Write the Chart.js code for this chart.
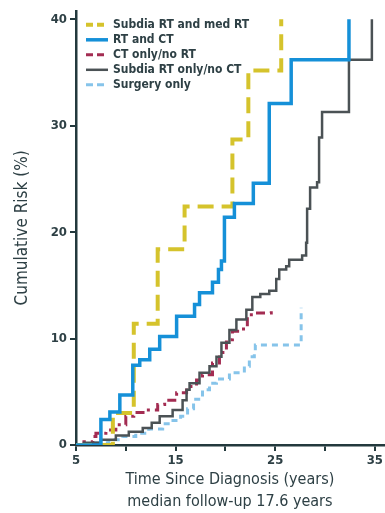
<!DOCTYPE html>
<html>
<head>
<meta charset="utf-8">
<script src="https://cdn.jsdelivr.net/npm/chart.js@4.4.0/dist/chart.umd.min.js"></script>
<style>
  html, body { margin: 0; padding: 0; background: #fff; }
  #wrap { width: 385px; height: 513px; }
</style>
</head>
<body>
<div id="wrap"><canvas id="risk-chart" width="385" height="513"></canvas></div>
<script>
// Eixos
const xTicks = [5, 10, 15, 20, 25, 30, 35];
const xLabeled = [5, 15, 25, 35];
const yTicks = [0, 10, 20, 30, 40];

// Nomes das séries (legenda)
const seriesNames = ['Subdia RT and med RT', 'RT and CT', 'CT only/no RT', 'Subdia RT only/no CT', 'Surgery only'];

// Subdia RT and med RT (amarelo tracejado)
const subdiaMedX = [5, 8.7, 10.8, 13.2, 15.9, 20.7, 22.3, 25.6];
const subdiaMedY = [0, 3.0, 11.4, 18.4, 22.4, 28.7, 35.2, 40];

// RT and CT (azul)
const rtCtX = [5, 7.5, 8.4, 9.4, 10.7, 11.4, 12.4, 13.4, 15.1, 16.9, 17.4, 18.7, 19.3, 19.6, 19.9, 20.9, 22.8, 24.4, 26.6, 32.4];
const rtCtY = [0, 2.4, 3.1, 4.7, 7.5, 8.0, 9.0, 10.2, 12.1, 13.2, 14.3, 15.3, 16.5, 17.3, 21.4, 22.7, 24.6, 32.1, 36.2, 40];

// CT only/no RT (vinho traço-ponto)
const ctOnlyX = [5.4, 5.8, 6.7, 7.0, 8.0, 9.0, 10.0, 10.8, 12.0, 13.2, 13.9, 15.1, 16.1, 17.1, 17.7, 18.7, 19.4, 20.1, 20.7, 21.6, 22.2, 22.6, 24.6];
const ctOnlyY = [0, 0.3, 0.8, 1.1, 1.4, 1.9, 2.7, 3.05, 3.3, 3.8, 4.2, 4.9, 5.5, 6.1, 6.6, 7.7, 8.7, 9.9, 10.7, 10.9, 12.0, 12.4, 12.7];

// Subdia RT only/no CT (cinza)
const subdiaOnlyX = [5, 5.8, 7.5, 9.0, 10.3, 11.7, 12.6, 13.4, 14.7, 15.7, 16.1, 16.4, 17.4, 18.4, 19.1, 19.6, 20.4, 21.1, 22.1, 22.7, 23.5, 24.4, 25.1, 25.4, 26.1, 26.4, 27.7, 28.1, 28.2, 28.2, 28.5, 29.2, 29.4, 29.7, 32.4, 34.7];
const subdiaOnlyY = [0, 0.2, 0.5, 0.9, 1.25, 1.6, 2.1, 2.7, 3.3, 4.2, 5.2, 5.8, 6.8, 7.4, 8.3, 9.6, 10.8, 11.8, 12.7, 13.9, 14.2, 14.5, 15.6, 16.5, 16.8, 17.4, 17.8, 19.0, 20.3, 22.2, 24.2, 24.7, 28.9, 31.3, 36.2, 40];

// Surgery only (azul claro tracejado)
const surgeryX = [6.0, 7.0, 8.3, 9.7, 11.0, 12.3, 13.7, 14.5, 15.5, 16.2, 16.8, 17.7, 18.4, 19.1, 20.4, 21.9, 22.4, 22.9, 23.0, 27.6];
const surgeryY = [0, 0.2, 0.5, 0.8, 1.1, 1.5, 2.0, 2.3, 2.7, 3.4, 4.3, 5.2, 5.8, 6.2, 6.8, 7.4, 8.3, 8.8, 9.4, 12.9];

const textColor = '#2e4045';
const axisColor = '#23393d';
const fontFamily = "'Liberation Sans Narrow', 'DejaVu Sans Condensed', 'Liberation Sans', Arial, sans-serif";

function toPoints(xs, ys) {
    return xs.map((x, i) => ({ x: x, y: ys[i] }));
}

const styles = [
    { color: '#d5c32c', width: 4, dash: [16, 8], order: 1 },
    { color: '#1590d8', width: 3.5, dash: [], order: 0 },
    { color: '#a32c52', width: 3, dash: [9, 5, 3, 5], order: 3 },
    { color: '#4b5255', width: 2.5, dash: [], order: 2 },
    { color: '#86c4ea', width: 3, dash: [6, 5], order: 4 }
];

const seriesData = [
    toPoints(subdiaMedX, subdiaMedY),
    toPoints(rtCtX, rtCtY),
    toPoints(ctOnlyX, ctOnlyY),
    toPoints(subdiaOnlyX, subdiaOnlyY),
    toPoints(surgeryX, surgeryY)
];

// Legenda desenhada dentro da área do gráfico
const insideLegend = {
    id: 'insideLegend',
    afterDatasetsDraw(chart) {
        const ctx = chart.ctx;
        const left = chart.chartArea.left + 10;
        const top = chart.chartArea.top + 14;
        ctx.save();
        ctx.font = 'bold 12px ' + fontFamily;
        ctx.textBaseline = 'middle';
        seriesNames.forEach((name, i) => {
            const y = top + i * 15;
            const s = styles[i];
            ctx.strokeStyle = s.color;
            ctx.lineWidth = s.width;
            ctx.setLineDash(s.dash.length ? [7, 4] : []);
            ctx.beginPath();
            ctx.moveTo(left, y);
            ctx.lineTo(left + 22, y);
            ctx.stroke();
            ctx.setLineDash([]);
            ctx.fillStyle = textColor;
            ctx.fillText(name, left + 27, y);
        });
        ctx.restore();
    }
};

const riskChart = new Chart(document.getElementById('risk-chart'), {
    type: 'line',
    data: {
        datasets: seriesData.map((pts, i) => ({
            label: seriesNames[i],
            data: pts,
            borderColor: styles[i].color,
            borderWidth: styles[i].width,
            borderDash: styles[i].dash,
            stepped: 'before',
            pointRadius: 0,
            fill: false,
            order: styles[i].order
        }))
    },
    options: {
        responsive: false,
        animation: false,
        layout: { padding: 0 },
        plugins: {
            legend: { display: false },
            tooltip: { enabled: false }
        },
        scales: {
            x: {
                type: 'linear',
                min: 5,
                max: 35.9,
                afterBuildTicks: scale => { scale.ticks = xTicks.map(v => ({ value: v })); },
                afterFit: scale => { scale.height = 68; },
                ticks: {
                    autoSkip: false,
                    maxRotation: 0,
                    padding: 2,
                    color: textColor,
                    font: { family: fontFamily, size: 13, weight: 'bold' },
                    callback: v => xLabeled.includes(v) ? String(v) : ''
                },
                grid: { drawOnChartArea: false, tickLength: 6, color: axisColor, lineWidth: 2 },
                border: { color: axisColor, width: 2.5 },
                title: {
                    display: true,
                    text: ['Time Since Diagnosis (years)', 'median follow-up 17.6 years'],
                    color: textColor,
                    font: { family: fontFamily, size: 16, lineHeight: '22px' },
                    padding: 0
                }
            },
            y: {
                min: 0,
                max: 40.8,
                afterBuildTicks: scale => { scale.ticks = yTicks.map(v => ({ value: v })); },
                afterFit: scale => { scale.width = 76; },
                ticks: {
                    padding: 3,
                    color: textColor,
                    font: { family: fontFamily, size: 13, weight: 'bold' }
                },
                grid: { drawOnChartArea: false, tickLength: 6, color: axisColor, lineWidth: 2 },
                border: { color: axisColor, width: 2.5 },
                title: {
                    display: true,
                    text: 'Cumulative Risk (%)',
                    color: textColor,
                    font: { family: fontFamily, size: 17, lineHeight: '18px' },
                    padding: { top: 14, bottom: 0 }
                }
            }
        }
    },
    plugins: [insideLegend]
});
</script>
</body>
</html>
